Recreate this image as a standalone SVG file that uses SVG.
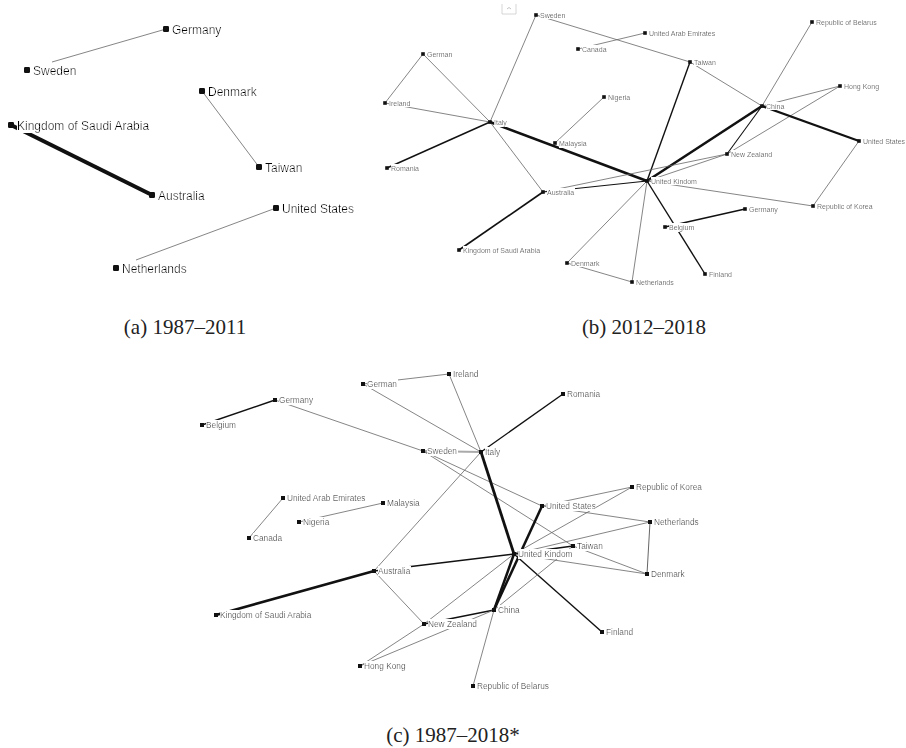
<svg xmlns="http://www.w3.org/2000/svg" width="906" height="748" viewBox="0 0 906 748">
<defs>
<filter id="bg" x="0" y="0" width="1" height="1"><feFlood flood-color="#fff" result="f"/><feComposite in="SourceGraphic" in2="f" operator="over"/></filter>
<style>
.t{stroke:#666;stroke-width:0.8;fill:none}
.m{stroke:#111;stroke-width:1.4;fill:none}
.k{stroke:#111;stroke-width:2.6;fill:none}
.g{stroke:#aaa;stroke-width:2;fill:none}
.na{fill:#111}
.n{fill:#111}
text{font-family:"Liberation Sans",Arial,sans-serif;fill:#000;filter:url(#bg)}
.la{font-size:12px}
.lb{font-size:7px}
.lc{font-size:8.3px}
.cap{font-family:"Liberation Serif","Times New Roman",serif;font-size:21px;fill:#222;text-anchor:middle;filter:none}
</style>
</defs>
<rect width="906" height="748" fill="#fff"/>

<g id="edges">
<!-- panel a -->
<line class="t" x1="52" y1="62" x2="166" y2="29"/>
<line class="t" x1="202" y1="91" x2="259" y2="167"/>
<line class="k" style="stroke-width:4" x1="11" y1="125" x2="152" y2="195"/>
<line class="t" x1="136" y1="260" x2="276" y2="208"/>
<!-- panel b -->
<line class="t" x1="536" y1="15" x2="490" y2="122"/>
<line class="t" x1="536" y1="15" x2="690" y2="62"/>
<line class="t" x1="578" y1="49" x2="645" y2="33"/>
<line class="t" x1="423" y1="54" x2="385" y2="103"/>
<line class="t" x1="423" y1="54" x2="490" y2="122"/>
<line class="t" x1="385" y1="103" x2="490" y2="122"/>
<line class="m" x1="490" y1="122" x2="387" y2="168"/>
<line class="k" x1="490" y1="122" x2="647" y2="181"/>
<line class="t" x1="490" y1="122" x2="543" y2="192"/>
<line class="t" x1="604" y1="97" x2="555" y2="143"/>
<line class="m" x1="690" y1="62" x2="647" y2="181"/>
<line class="t" x1="690" y1="62" x2="762" y2="106"/>
<line class="t" x1="812" y1="22" x2="762" y2="106"/>
<line class="m" style="stroke-width:1.1" x1="762" y1="106" x2="727" y2="154"/>
<line class="t" x1="762" y1="106" x2="840" y2="86"/>
<line class="t" x1="840" y1="86" x2="727" y2="154"/>
<line class="k" x1="762" y1="106" x2="647" y2="181"/>
<line class="k" style="stroke-width:2.2" x1="762" y1="106" x2="859" y2="141"/>
<line class="t" x1="859" y1="141" x2="813" y2="206"/>
<line class="t" x1="647" y1="181" x2="813" y2="206"/>
<line class="t" x1="647" y1="181" x2="727" y2="154"/>
<line class="t" x1="543" y1="192" x2="727" y2="154"/>
<line class="m" style="stroke-width:1.2" x1="543" y1="192" x2="647" y2="181"/>
<line class="m" style="stroke-width:1.7" x1="543" y1="192" x2="459" y2="250"/>
<line class="t" x1="647" y1="181" x2="567" y2="263"/>
<line class="t" x1="647" y1="181" x2="632" y2="282"/>
<line class="t" x1="567" y1="263" x2="632" y2="282"/>
<line class="m" x1="647" y1="181" x2="705" y2="274"/>
<line class="m" x1="665" y1="227" x2="745" y2="209"/>
<!-- panel c -->
<line class="m" x1="202" y1="425" x2="275" y2="400"/>
<line class="t" x1="275" y1="400" x2="423" y2="451"/>
<line class="t" x1="363" y1="384" x2="449" y2="374"/>
<line class="t" x1="363" y1="384" x2="481" y2="452"/>
<line class="t" x1="449" y1="374" x2="481" y2="452"/>
<line class="m" x1="481" y1="452" x2="563" y2="394"/>
<line class="g" x1="423" y1="451" x2="481" y2="452"/>
<line class="t" x1="423" y1="451" x2="542" y2="506"/>
<line class="t" x1="423" y1="451" x2="573" y2="546"/>
<line class="k" style="stroke-width:2.8" x1="481" y1="452" x2="514" y2="554"/>
<line class="t" x1="481" y1="452" x2="374" y2="571"/>
<line class="t" x1="283" y1="498" x2="249" y2="538"/>
<line class="t" x1="299" y1="522" x2="383" y2="503"/>
<line class="t" x1="632" y1="487" x2="542" y2="506"/>
<line class="t" x1="632" y1="487" x2="514" y2="554"/>
<line class="t" x1="542" y1="506" x2="650" y2="522"/>
<line class="k" style="stroke-width:2.5" x1="542" y1="506" x2="494" y2="610"/>
<line class="t" x1="514" y1="554" x2="650" y2="522"/>
<line class="m" x1="514" y1="554" x2="573" y2="546"/>
<line class="t" x1="514" y1="554" x2="647" y2="574"/>
<line class="t" x1="573" y1="546" x2="647" y2="574"/>
<line class="t" style="stroke:#555;stroke-width:0.9" x1="650" y1="522" x2="647" y2="574"/>
<line class="k" style="stroke-width:2.5" x1="514" y1="554" x2="494" y2="610"/>
<line class="m" x1="514" y1="554" x2="602" y2="632"/>
<line class="m" x1="514" y1="554" x2="374" y2="571"/>
<line class="t" x1="514" y1="554" x2="424" y2="624"/>
<line class="k" style="stroke-width:2.5" x1="374" y1="571" x2="216" y2="615"/>
<line class="t" x1="374" y1="571" x2="424" y2="624"/>
<line class="m" x1="424" y1="624" x2="494" y2="610"/>
<line class="t" x1="360" y1="666" x2="424" y2="624"/>
<line class="t" x1="360" y1="666" x2="494" y2="610"/>
<line class="t" x1="494" y1="610" x2="473" y2="686"/>
<line class="t" x1="494" y1="610" x2="573" y2="546"/>
</g>

<!-- small UI artifact in panel b -->
<path d="M502 4 V14 H516 V4" fill="none" stroke="#ccc" stroke-width="0.8"/>
<path d="M507 9 L509 7.5 L511 9" fill="none" stroke="#999" stroke-width="0.6"/>

<!-- Panel a nodes -->
<g id="a-germany"><rect class="na" x="163" y="26" width="6" height="6" rx="1.2"/><text class="la" x="172" y="33.5">Germany</text></g>
<g id="a-sweden"><rect class="na" x="24" y="67" width="6" height="6" rx="1.2"/><text class="la" x="33" y="74.5">Sweden</text></g>
<g id="a-denmark"><rect class="na" x="199" y="88" width="6" height="6" rx="1.2"/><text class="la" x="208" y="95.5">Denmark</text></g>
<g id="a-ksa"><rect class="na" x="8" y="122" width="6" height="6" rx="1.2"/><text class="la" x="17" y="129.5">Kingdom of Saudi Arabia</text></g>
<g id="a-taiwan"><rect class="na" x="256" y="164" width="6" height="6" rx="1.2"/><text class="la" x="265" y="171.5">Taiwan</text></g>
<g id="a-australia"><rect class="na" x="149" y="192" width="6" height="6" rx="1.2"/><text class="la" x="158" y="199.5">Australia</text></g>
<g id="a-us"><rect class="na" x="273" y="205" width="6" height="6" rx="1.2"/><text class="la" x="282" y="212.5">United States</text></g>
<g id="a-netherlands"><rect class="na" x="113" y="265" width="6" height="6" rx="1.2"/><text class="la" x="122" y="272.5">Netherlands</text></g>

<!-- Panel b nodes -->
<g id="b-sweden"><rect class="n" x="534.2" y="13.2" width="3.6" height="3.6"/><text class="lb" x="540" y="17.5">Sweden</text></g>
<g id="b-german"><rect class="n" x="421.2" y="52.2" width="3.6" height="3.6"/><text class="lb" x="427" y="56.5">German</text></g>
<g id="b-canada"><rect class="n" x="576.2" y="47.2" width="3.6" height="3.6"/><text class="lb" x="582" y="51.5">Canada</text></g>
<g id="b-uae"><rect class="n" x="643.2" y="31.2" width="3.6" height="3.6"/><text class="lb" x="649" y="35.5">United Arab Emirates</text></g>
<g id="b-belarus"><rect class="n" x="810.2" y="20.2" width="3.6" height="3.6"/><text class="lb" x="816" y="24.5">Republic of Belarus</text></g>
<g id="b-taiwan"><rect class="n" x="688.2" y="60.2" width="3.6" height="3.6"/><text class="lb" x="694" y="64.5">Taiwan</text></g>
<g id="b-ireland"><rect class="n" x="383.2" y="101.2" width="3.6" height="3.6"/><text class="lb" x="389" y="105.5">Ireland</text></g>
<g id="b-italy"><rect class="n" x="488.2" y="120.2" width="3.6" height="3.6"/><text class="lb" x="494" y="124.5">Italy</text></g>
<g id="b-nigeria"><rect class="n" x="602.2" y="95.2" width="3.6" height="3.6"/><text class="lb" x="608" y="99.5">Nigeria</text></g>
<g id="b-malaysia"><rect class="n" x="553.2" y="141.2" width="3.6" height="3.6"/><text class="lb" x="559" y="145.5">Malaysia</text></g>
<g id="b-hongkong"><rect class="n" x="838.2" y="84.2" width="3.6" height="3.6"/><text class="lb" x="844" y="88.5">Hong Kong</text></g>
<g id="b-china"><rect class="n" x="760.2" y="104.2" width="3.6" height="3.6"/><text class="lb" x="766" y="108.5">China</text></g>
<g id="b-us"><rect class="n" x="857.2" y="139.2" width="3.6" height="3.6"/><text class="lb" x="863" y="143.5">United States</text></g>
<g id="b-nz"><rect class="n" x="725.2" y="152.2" width="3.6" height="3.6"/><text class="lb" x="731" y="156.5">New Zealand</text></g>
<g id="b-uk"><rect class="n" x="645.2" y="179.2" width="3.6" height="3.6"/><text class="lb" x="651" y="183.5">United Kindom</text></g>
<g id="b-romania"><rect class="n" x="385.2" y="166.2" width="3.6" height="3.6"/><text class="lb" x="391" y="170.5">Romania</text></g>
<g id="b-australia"><rect class="n" x="541.2" y="190.2" width="3.6" height="3.6"/><text class="lb" x="547" y="194.5">Australia</text></g>
<g id="b-ksa"><rect class="n" x="457.2" y="248.2" width="3.6" height="3.6"/><text class="lb" x="463" y="252.5">Kingdom of Saudi Arabia</text></g>
<g id="b-rok"><rect class="n" x="811.2" y="204.2" width="3.6" height="3.6"/><text class="lb" x="817" y="208.5">Republic of Korea</text></g>
<g id="b-germany"><rect class="n" x="743.2" y="207.2" width="3.6" height="3.6"/><text class="lb" x="749" y="211.5">Germany</text></g>
<g id="b-belgium"><rect class="n" x="663.2" y="225.2" width="3.6" height="3.6"/><text class="lb" x="669" y="229.5">Belgium</text></g>
<g id="b-denmark"><rect class="n" x="565.2" y="261.2" width="3.6" height="3.6"/><text class="lb" x="571" y="265.5">Denmark</text></g>
<g id="b-netherlands"><rect class="n" x="630.2" y="280.2" width="3.6" height="3.6"/><text class="lb" x="636" y="284.5">Netherlands</text></g>
<g id="b-finland"><rect class="n" x="703.2" y="272.2" width="3.6" height="3.6"/><text class="lb" x="709" y="276.5">Finland</text></g>

<!-- Panel c nodes -->
<g id="c-german"><rect class="n" x="361" y="382" width="4" height="4"/><text class="lc" x="367" y="387">German</text></g>
<g id="c-ireland"><rect class="n" x="447" y="372" width="4" height="4"/><text class="lc" x="453" y="377">Ireland</text></g>
<g id="c-romania"><rect class="n" x="561" y="392" width="4" height="4"/><text class="lc" x="567" y="397">Romania</text></g>
<g id="c-germany"><rect class="n" x="273" y="398" width="4" height="4"/><text class="lc" x="279" y="403">Germany</text></g>
<g id="c-belgium"><rect class="n" x="200" y="423" width="4" height="4"/><text class="lc" x="206" y="428">Belgium</text></g>
<g id="c-sweden"><rect class="n" x="421" y="449" width="4" height="4"/><text class="lc" x="427" y="454">Sweden</text></g>
<g id="c-italy"><rect class="n" x="479" y="450" width="4" height="4"/><text class="lc" x="485" y="455">Italy</text></g>
<g id="c-rok"><rect class="n" x="630" y="485" width="4" height="4"/><text class="lc" x="636" y="490">Republic of Korea</text></g>
<g id="c-uae"><rect class="n" x="281" y="496" width="4" height="4"/><text class="lc" x="287" y="501">United Arab Emirates</text></g>
<g id="c-malaysia"><rect class="n" x="381" y="501" width="4" height="4"/><text class="lc" x="387" y="506">Malaysia</text></g>
<g id="c-us"><rect class="n" x="540" y="504" width="4" height="4"/><text class="lc" x="546" y="509">United States</text></g>
<g id="c-netherlands"><rect class="n" x="648" y="520" width="4" height="4"/><text class="lc" x="654" y="525">Netherlands</text></g>
<g id="c-nigeria"><rect class="n" x="297" y="520" width="4" height="4"/><text class="lc" x="303" y="525">Nigeria</text></g>
<g id="c-canada"><rect class="n" x="247" y="536" width="4" height="4"/><text class="lc" x="253" y="541">Canada</text></g>
<g id="c-taiwan"><rect class="n" x="571" y="544" width="4" height="4"/><text class="lc" x="577" y="549">Taiwan</text></g>
<g id="c-uk"><rect class="n" x="512" y="552" width="4" height="4"/><text class="lc" x="518" y="557">United Kindom</text></g>
<g id="c-australia"><rect class="n" x="372" y="569" width="4" height="4"/><text class="lc" x="378" y="574">Australia</text></g>
<g id="c-denmark"><rect class="n" x="645" y="572" width="4" height="4"/><text class="lc" x="651" y="577">Denmark</text></g>
<g id="c-china"><rect class="n" x="492" y="608" width="4" height="4"/><text class="lc" x="498" y="613">China</text></g>
<g id="c-ksa"><rect class="n" x="214" y="613" width="4" height="4"/><text class="lc" x="220" y="618">Kingdom of Saudi Arabia</text></g>
<g id="c-nz"><rect class="n" x="422" y="622" width="4" height="4"/><text class="lc" x="428" y="627">New Zealand</text></g>
<g id="c-finland"><rect class="n" x="600" y="630" width="4" height="4"/><text class="lc" x="606" y="635">Finland</text></g>
<g id="c-hongkong"><rect class="n" x="358" y="664" width="4" height="4"/><text class="lc" x="364" y="669">Hong Kong</text></g>
<g id="c-belarus"><rect class="n" x="471" y="684" width="4" height="4"/><text class="lc" x="477" y="689">Republic of Belarus</text></g>

<text class="cap" x="185" y="334">(a) 1987–2011</text>
<text class="cap" x="644" y="334">(b) 2012–2018</text>
<text class="cap" x="453" y="742">(c) 1987–2018*</text>
</svg>
